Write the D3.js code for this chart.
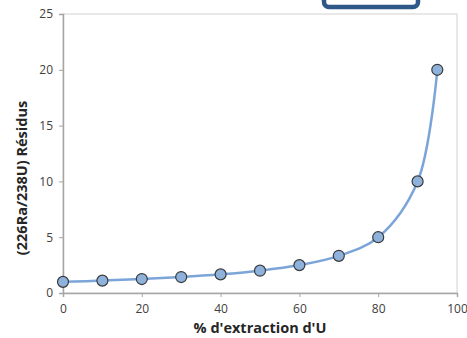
<script src="https://cdn.jsdelivr.net/npm/d3@7"></script>
<style>
  body { margin: 0; background: #fff; }
  .tick text { font-family: "Open Sans", sans-serif; font-size: 12px; fill: #404040; }
</style>
<div id="chart"></div>
<script>
// % extraction of U vs (226Ra/238U) in residues
var extraction = [0, 10, 20, 30, 40, 50, 60, 70, 80, 90, 95];
var ratio = [1, 1.11, 1.25, 1.43, 1.67, 2, 2.5, 3.33, 5, 10, 20];
var xTicks = [0, 20, 40, 60, 80, 100];
var yTicks = [0, 5, 10, 15, 20, 25];

var W = 467, H = 338;
var margin = {top: 14, right: 10, bottom: 45, left: 63};
var width = W - margin.left - margin.right,
    height = H - margin.top - margin.bottom;

var svg = d3.select("#chart").append("svg")
    .attr("width", W).attr("height", H);

// the dark box sticking in at the top
svg.append("rect")
    .attr("x", 324).attr("y", -12)
    .attr("width", 94).attr("height", 19)
    .attr("rx", 5)
    .attr("fill", "#fff")
    .attr("stroke", "#2e5887")
    .attr("stroke-width", 4.5);

var g = svg.append("g")
    .attr("transform", "translate(" + margin.left + "," + margin.top + ")");

var x = d3.scaleLinear().domain([0, 100]).range([0, width]);
var y = d3.scaleLinear().domain([0, 25]).range([height, 0]);

// plot area outline
g.append("rect")
    .attr("width", width).attr("height", height)
    .attr("fill", "none").attr("stroke", "#d9d9d9").attr("stroke-width", 1.2);

var xAxis = g.append("g")
    .attr("transform", "translate(0," + height + ")")
    .call(d3.axisBottom(x).tickValues(xTicks).tickSize(4).tickPadding(7));
var yAxis = g.append("g")
    .call(d3.axisLeft(y).tickValues(yTicks).tickSize(4).tickPadding(6));
[xAxis, yAxis].forEach(function(a) {
    a.select(".domain").attr("stroke", "#a6a6a6").attr("stroke-width", 1.5);
    a.selectAll(".tick line").attr("stroke", "#a6a6a6");
});

var data = extraction.map(function(d, i) { return {x: d, y: ratio[i]}; });

var line = d3.line()
    .x(function(d) { return x(d.x); })
    .y(function(d) { return y(d.y); })
    .curve(d3.curveCatmullRom.alpha(0.5));

g.append("path")
    .datum(data)
    .attr("d", line)
    .attr("fill", "none")
    .attr("stroke", "#7ba4d8")
    .attr("stroke-width", 2.5);

g.selectAll("circle").data(data).enter().append("circle")
    .attr("cx", function(d) { return x(d.x); })
    .attr("cy", function(d) { return y(d.y); })
    .attr("r", 5.5)
    .attr("fill", "#8fb2dc")
    .attr("stroke", "#3a3a3a")
    .attr("stroke-width", 1.2);

svg.append("text")
    .attr("x", margin.left + width / 2).attr("y", 333)
    .attr("text-anchor", "middle")
    .style("font-family", "'Open Sans', sans-serif")
    .style("font-size", "14.5px").style("font-weight", "bold")
    .attr("fill", "#262626")
    .text("% d'extraction d'U");

svg.append("text")
    .attr("transform", "translate(27,178) rotate(-90)")
    .attr("text-anchor", "middle")
    .style("font-family", "'Open Sans', sans-serif")
    .style("font-size", "14.5px").style("font-weight", "bold")
    .attr("fill", "#262626")
    .text("(226Ra/238U) Résidus");
</script>
